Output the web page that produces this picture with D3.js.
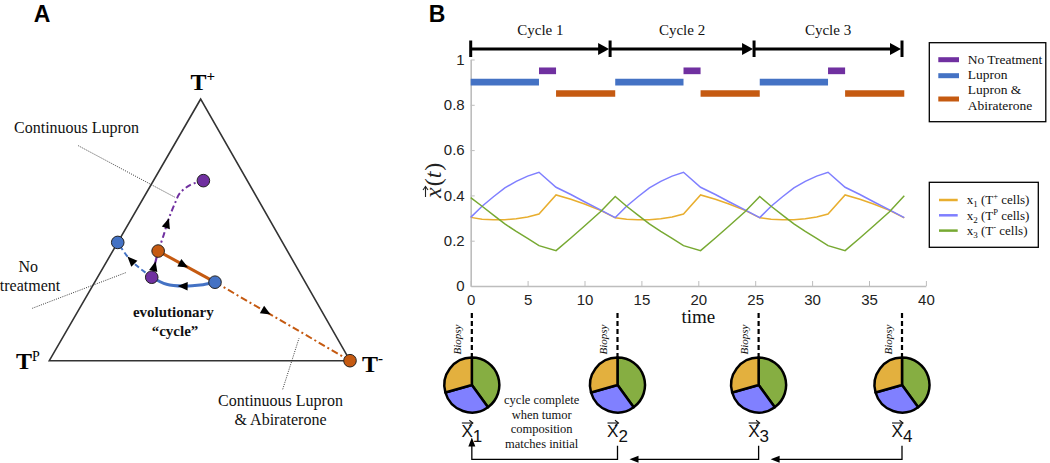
<!DOCTYPE html>
<html><head><meta charset="utf-8">
<script src="https://cdn.jsdelivr.net/npm/d3@7"></script>
<style>body{margin:0;background:#fff}svg{display:block}</style>
</head><body><svg id="c" width="1050" height="463"></svg>
<script>
// ================= DATA =================
// Panel B – time series (fractions of each cell type)
const timePts = [0,1,2,3,4,5,6,7.5,8.8,10,11.4,12.7,
  13.7,14.7,15.7,16.7,17.7,18.7,20.2,21.5,22.7,24.1,25.4,
  26.4,27.4,28.4,29.4,30.4,31.4,32.9,34.2,35.4,36.8,38.1];
const x1Vals = [0.303,0.295,0.292,0.293,0.297,0.305,0.318,0.402,0.383,0.362,0.334,0.301,
  0.295,0.292,0.293,0.297,0.305,0.318,0.402,0.383,0.362,0.334,0.301,
  0.295,0.292,0.293,0.297,0.305,0.318,0.402,0.383,0.362,0.334,0.301];
const x2Vals = [0.303,0.352,0.394,0.433,0.462,0.485,0.502,0.436,0.404,0.372,0.336,0.302,
  0.352,0.394,0.433,0.462,0.485,0.502,0.436,0.404,0.372,0.336,0.302,
  0.352,0.394,0.433,0.462,0.485,0.502,0.436,0.404,0.372,0.336,0.302];
const x3Vals = [0.390,0.352,0.313,0.274,0.241,0.210,0.178,0.156,0.212,0.265,0.328,0.395,
  0.352,0.313,0.274,0.241,0.210,0.178,0.156,0.212,0.265,0.328,0.395,
  0.352,0.313,0.274,0.241,0.210,0.178,0.156,0.212,0.265,0.328,0.398];
// treatment schedule [start,end]
const noTreatment = [[6.0,7.5],[18.7,20.2],[31.4,32.9]];
const lupron = [[0,6.0],[12.7,18.7],[25.4,31.4]];
const lupronAbi = [[7.5,12.7],[20.2,25.4],[32.9,38.1]];
const treatLevels = [0.95,0.90,0.85];
const cycleBounds = [0,12.25,24.9,37.9];
const cycleLabels = ["Cycle 1","Cycle 2","Cycle 3"];
const xTicks = [0,5,10,15,20,25,30,35,40];
const yTicks = [0,0.2,0.4,0.6,0.8,1];
// biopsies / pies
const biopsyTimes = [0.1,12.9,25.3,37.9];
const pieX1 = [0.294,0.294,0.294,0.294];
const pieX2 = [0.306,0.306,0.306,0.306];
const pieX3 = [0.400,0.400,0.400,0.400];
const pieLabels = ["1","2","3","4"];

// Panel A – ternary trajectories, barycentric [T+, Tp, T-]
const ternLupron = [[0.30,0.30,0.40],[0.289,0.355,0.356],[0.285,0.413,0.302],[0.292,0.465,0.243],[0.319,0.501,0.180]];
const ternNoTreat = [[0.319,0.501,0.180],[0.419,0.430,0.151]];
const ternLupAbi = [[0.419,0.430,0.151],[0.30,0.30,0.40]];
const ternContNoTreat = [[0.419,0.430,0.151],[0.474,0.386,0.140],[0.538,0.337,0.125],[0.601,0.284,0.115],[0.640,0.248,0.112],[0.671,0.199,0.130],[0.688,0.146,0.166]];
const ternContLupron = [[0.319,0.501,0.180],[0.384,0.539,0.077],[0.452,0.548,0.0]];
const ternContLupAbi = [[0.30,0.30,0.40],[0.0,0.0,1.0]];
const ternPurplePts = [[0.688,0.146,0.166],[0.319,0.501,0.180]];
const ternBluePts = [[0.452,0.548,0.0],[0.30,0.30,0.40]];
const ternOrangePts = [[0.419,0.430,0.151],[0.0,0.0,1.0]];

// ================= STYLE =================
const SERIF = "'Liberation Serif','Times New Roman',serif";
const SANS = "'Liberation Sans',Arial,Helvetica,sans-serif";
const C_PURPLE = "#7030A0", C_BLUE = "#4472C4", C_ORANGE = "#C55A11";
const C_X1 = "#E8AE2F", C_X2 = "#7F7FFF", C_X3 = "#77A932";
const P_X1 = "#E3B03E", P_X2 = "#8080FF", P_X3 = "#86AE42";

const svg = d3.select("#c");

function arrowHead(g, x, y, ang, len, wid) {
  g.append("path").attr("d", `M0,0L${-len},${-wid/2}L${-len},${wid/2}Z`)
    .attr("transform", `translate(${x},${y}) rotate(${ang*180/Math.PI})`).attr("fill", "#000");
}
function arrowOnPath(g, node, frac, len, wid) {
  const L = node.getTotalLength(), d = frac*L;
  const p1 = node.getPointAtLength(Math.max(0,d-1.5)), p2 = node.getPointAtLength(Math.min(L,d+1.5));
  const ang = Math.atan2(p2.y-p1.y, p2.x-p1.x);
  const tip = node.getPointAtLength(Math.min(L, d+len/2));
  arrowHead(g, tip.x, tip.y, ang, len, wid);
}
function txt(g, x, y, s, size, opts={}) {
  const t = g.append("text").attr("x",x).attr("y",y).attr("text-anchor",opts.anchor||"middle")
    .attr("font-family",opts.family||SERIF).attr("font-size",size).attr("fill","#111").text(s);
  if (opts.weight) t.attr("font-weight",opts.weight);
  if (opts.style) t.attr("font-style",opts.style);
  return t;
}

// ================= PANEL LABELS =================
svg.append("text").attr("x",42).attr("y",22).attr("text-anchor","middle").attr("font-family",SANS).attr("font-weight","bold").attr("font-size",23).text("A");
svg.append("text").attr("x",437).attr("y",22).attr("text-anchor","middle").attr("font-family",SANS).attr("font-weight","bold").attr("font-size",23).text("B");

// ================= PANEL A =================
const gA = svg.append("g");
const vTop = [200.7,99], vLeft = [49.3,360.7], vRight = [350,360.7];
const ternX = d3.scaleLinear().domain([0,1]).range([0,1]);
function tern(p) {
  const s = p[0]+p[1]+p[2];
  const a = ternX(p[0]/s), b = ternX(p[1]/s), c = ternX(p[2]/s);
  return [a*vTop[0]+b*vLeft[0]+c*vRight[0], a*vTop[1]+b*vLeft[1]+c*vRight[1]];
}
gA.append("path").attr("d", `M${vTop}L${vLeft}L${vRight}Z`).attr("fill","none").attr("stroke","#333").attr("stroke-width",1.6).attr("stroke-linejoin","miter");

// vertex labels
const tp = gA.append("text").attr("x",190.5).attr("y",90).attr("font-family",SERIF).attr("font-weight","bold").attr("font-size",24);
tp.append("tspan").text("T"); tp.append("tspan").attr("font-size",15).attr("dy",-9).text("+");
const tl = gA.append("text").attr("x",16).attr("y",368.5).attr("font-family",SERIF).attr("font-weight","bold").attr("font-size",24);
tl.append("tspan").text("T"); tl.append("tspan").attr("font-size",14).attr("font-weight","normal").attr("dy",-8).text("P");
const tr = gA.append("text").attr("x",362).attr("y",372).attr("font-family",SERIF).attr("font-weight","bold").attr("font-size",24);
tr.append("tspan").text("T"); tr.append("tspan").attr("font-size",15).attr("dy",-9).text("-");

// leader lines
const leaders = [[[78.3,145.7],[175,197.3]],[[32.3,308.3],[126.7,272.3]],[[282.7,389.3],[299,338.3]]];
leaders.forEach(l => gA.append("line").attr("x1",l[0][0]).attr("y1",l[0][1]).attr("x2",l[1][0]).attr("y2",l[1][1])
  .attr("stroke","#222").attr("stroke-width",0.9).attr("stroke-dasharray","1,1.3"));

const lineT = d3.line().x(d=>tern(d)[0]).y(d=>tern(d)[1]).curve(d3.curveCatmullRom);
function trajectory(data, color, width, dash, frac) {
  const p = gA.append("path").attr("d", lineT(data)).attr("fill","none").attr("stroke",color)
    .attr("stroke-width",width).attr("stroke-linecap","butt");
  if (dash) p.attr("stroke-dasharray",dash);
  arrowOnPath(gA, p.node(), frac, 10, 8.5);
}
trajectory(ternContLupAbi, C_ORANGE, 2, "7,3,2,3", 0.38);
trajectory(ternContNoTreat, C_PURPLE, 2, "6,3,2,3", 0.33);
trajectory(ternContLupron, C_BLUE, 2, "5,3", 0.55);
trajectory(ternLupron, C_BLUE, 3, null, 0.5);
trajectory(ternLupAbi, C_ORANGE, 3, null, 0.45);
trajectory(ternNoTreat, C_PURPLE, 2.2, null, 0.42);

[[ternPurplePts,C_PURPLE],[ternBluePts,C_BLUE],[ternOrangePts,C_ORANGE]].forEach(([pts,col]) => {
  gA.selectAll(null).data(pts).enter().append("circle")
    .attr("cx",d=>tern(d)[0]).attr("cy",d=>tern(d)[1]).attr("r",6.3)
    .attr("fill",col).attr("stroke","#222").attr("stroke-width",1);
});

txt(gA,76.5,133,"Continuous Lupron",16);
txt(gA,28.3,272,"No",16);
txt(gA,30,290.5,"treatment",16);
txt(gA,173.3,317,"evolutionary",15,{weight:"bold"});
txt(gA,175,335.5,"\u201Ccycle\u201D",15,{weight:"bold"});
txt(gA,280.5,406,"Continuous Lupron",16);
txt(gA,280.5,425,"& Abiraterone",16);

// ================= PANEL B =================
const gB = svg.append("g");
const x = d3.scaleLinear().domain([0,40]).range([470.7,925.9]);
const y = d3.scaleLinear().domain([0,1]).range([286,59.5]);

const axY = gB.append("g").attr("transform",`translate(${x(0)},0)`)
  .call(d3.axisLeft(y).tickValues(yTicks).tickSizeInner(-4).tickSizeOuter(0).tickPadding(6).tickFormat(d3.format("~g")));
const axX = gB.append("g").attr("transform",`translate(0,${y(0)})`)
  .call(d3.axisBottom(x).tickValues(xTicks).tickSizeInner(-5).tickSizeOuter(0).tickPadding(8).tickFormat(d3.format("d")));
[axY,axX].forEach(a => {
  a.select(".domain").attr("stroke","#bdbdbd").attr("stroke-width",1.6);
  a.selectAll(".tick line").attr("stroke","#bdbdbd");
  a.selectAll(".tick text").attr("font-family",SANS).attr("font-size",15).attr("fill","#222");
});

// y label x⃗(t)
const yl = gB.append("g").attr("transform","translate(441,198) rotate(-90)");
const ylt = yl.append("text").attr("x",0).attr("y",0).attr("font-family",SERIF).attr("font-size",24).attr("fill","#222");
ylt.append("tspan").attr("font-style","italic").text("x");
ylt.append("tspan").attr("dx",1).text("(");
ylt.append("tspan").attr("font-style","italic").text("t");
ylt.append("tspan").attr("dx",1).text(")");
yl.append("path").attr("d","M1,-15.5H11").attr("stroke","#222").attr("stroke-width",1.1);
yl.append("path").attr("d","M8,-18L11.5,-15.5L8,-13").attr("stroke","#222").attr("fill","none").attr("stroke-width",1.1);

txt(gB,698.3,323,"time",19);

// series lines
const lineG = d3.line().x((d,i)=>x(timePts[i])).y(d=>y(d));
[[x1Vals,C_X1],[x2Vals,C_X2],[x3Vals,C_X3]].forEach(([vals,col]) => {
  gB.append("path").attr("d",lineG(vals)).attr("fill","none").attr("stroke",col).attr("stroke-width",1.5).attr("stroke-linejoin","miter");
});

// treatment bars
[[noTreatment,C_PURPLE,treatLevels[0]],[lupron,C_BLUE,treatLevels[1]],[lupronAbi,C_ORANGE,treatLevels[2]]].forEach(([iv,col,lev]) => {
  gB.selectAll(null).data(iv).enter().append("line")
    .attr("x1",d=>x(d[0])).attr("x2",d=>x(d[1])).attr("y1",y(lev)).attr("y2",y(lev))
    .attr("stroke",col).attr("stroke-width",6.7);
});

// cycle arrows
const cy = 49;
cycleBounds.forEach(t => gB.append("line").attr("x1",x(t)).attr("x2",x(t)).attr("y1",40.5).attr("y2",57)
  .attr("stroke","#000").attr("stroke-width",3));
cycleLabels.forEach((lab,i) => {
  const a = x(cycleBounds[i]), b = x(cycleBounds[i+1]);
  gB.append("line").attr("x1",a).attr("x2",b-9).attr("y1",cy).attr("y2",cy).attr("stroke","#000").attr("stroke-width",3);
  arrowHead(gB, b-1, cy, 0, 11, 12);
  txt(gB,(a+b)/2,35,lab,15);
});

// legend 1
gB.append("rect").attr("x",929.3).attr("y",42.7).attr("width",116.5).attr("height",79).attr("fill","#fff").attr("stroke","#000").attr("stroke-width",1.3);
[[C_PURPLE,59.7],[C_BLUE,75.7],[C_ORANGE,99]].forEach(([c,yy]) => gB.append("line").attr("x1",938.3).attr("x2",959).attr("y1",yy).attr("y2",yy).attr("stroke",c).attr("stroke-width",5));
[["No Treatment",63.5],["Lupron",78.8],["Lupron &",94],["Abiraterone",110]].forEach(([s,yy]) => txt(gB,967.7,yy,s,13.5,{anchor:"start"}));

// legend 2
gB.append("rect").attr("x",929.3).attr("y",182.3).attr("width",109).attr("height",65).attr("fill","#fff").attr("stroke","#000").attr("stroke-width",1.3);
const leg2 = [[C_X1,"1","+"],[C_X2,"2","P"],[C_X3,"3","-"]];
leg2.forEach(([c,sub,sup],i) => {
  const yy = 200 + i*15.3;
  gB.append("line").attr("x1",939).attr("x2",957.7).attr("y1",yy).attr("y2",yy).attr("stroke",c).attr("stroke-width",2.5);
  const t = gB.append("text").attr("x",966.7).attr("y",yy+4.3).attr("font-family",SERIF).attr("font-size",13).attr("fill","#111");
  t.append("tspan").text("x");
  t.append("tspan").attr("font-size",9).attr("dy",3).text(sub);
  t.append("tspan").attr("dy",-3).text(" (T");
  t.append("tspan").attr("font-size",8.5).attr("dy",-5).text(sup);
  t.append("tspan").attr("dy",5).text(" cells)");
});

// biopsies + pies
const pieGen = d3.pie().sort(null).value(d=>d).startAngle(0).endAngle(2*Math.PI);
const arcGen = d3.arc().innerRadius(0).outerRadius(27.5);
const pieCols = [P_X3,P_X2,P_X1];
biopsyTimes.forEach((t,i) => {
  const px = x(t), py = 385;
  gB.append("line").attr("x1",px).attr("x2",px).attr("y1",313).attr("y2",357.5).attr("stroke","#000").attr("stroke-width",2.2).attr("stroke-dasharray","5,3");
  gB.append("text").attr("transform",`translate(${px-10.5},339.5) rotate(-90)`).attr("text-anchor","middle")
    .attr("font-family",SERIF).attr("font-style","italic").attr("font-size",11).attr("fill","#111").text("Biopsy");
  const g = gB.append("g").attr("transform",`translate(${px},${py})`);
  g.selectAll("path").data(pieGen([pieX3[i],pieX2[i],pieX1[i]])).enter().append("path")
    .attr("d",arcGen).attr("fill",(d,j)=>pieCols[j]).attr("stroke","#000").attr("stroke-width",2.5).attr("stroke-linejoin","round");
  const lt = gB.append("text").attr("x",px).attr("y",436.5).attr("text-anchor","middle").attr("font-family",SANS).attr("font-size",17).attr("fill","#111");
  lt.append("tspan").text("X");
  lt.append("tspan").attr("dy",5).attr("font-size",17).text(pieLabels[i]);
  gB.append("path").attr("d",`M${px-10},423H${px+0.5}`).attr("stroke","#111").attr("stroke-width",1.1);
  gB.append("path").attr("d",`M${px-2.5},420.3L${px+1},423L${px-2.5},425.7`).attr("stroke","#111").attr("fill","none").attr("stroke-width",1.1);
});

["cycle complete","when tumor","composition","matches initial"].forEach((s,i) => txt(gB,541.7,404+i*14.7,s,12.5));

// return arrows
const ay = 459.3;
biopsyTimes.slice(1).forEach((t,i) => {
  const from = x(t), to = x(biopsyTimes[i]);
  if (i === 0) {
    gB.append("path").attr("d",`M${from},445.7V${ay}H${to}V446`).attr("fill","none").attr("stroke","#000").attr("stroke-width",1.3);
    arrowHead(gB, to, 437.5, -Math.PI/2, 9, 7);
  } else {
    gB.append("path").attr("d",`M${from},445.7V${ay}H${to+20}`).attr("fill","none").attr("stroke","#000").attr("stroke-width",1.3);
    arrowHead(gB, to+12, ay, Math.PI, 9, 7);
  }
});
</script></body></html>
